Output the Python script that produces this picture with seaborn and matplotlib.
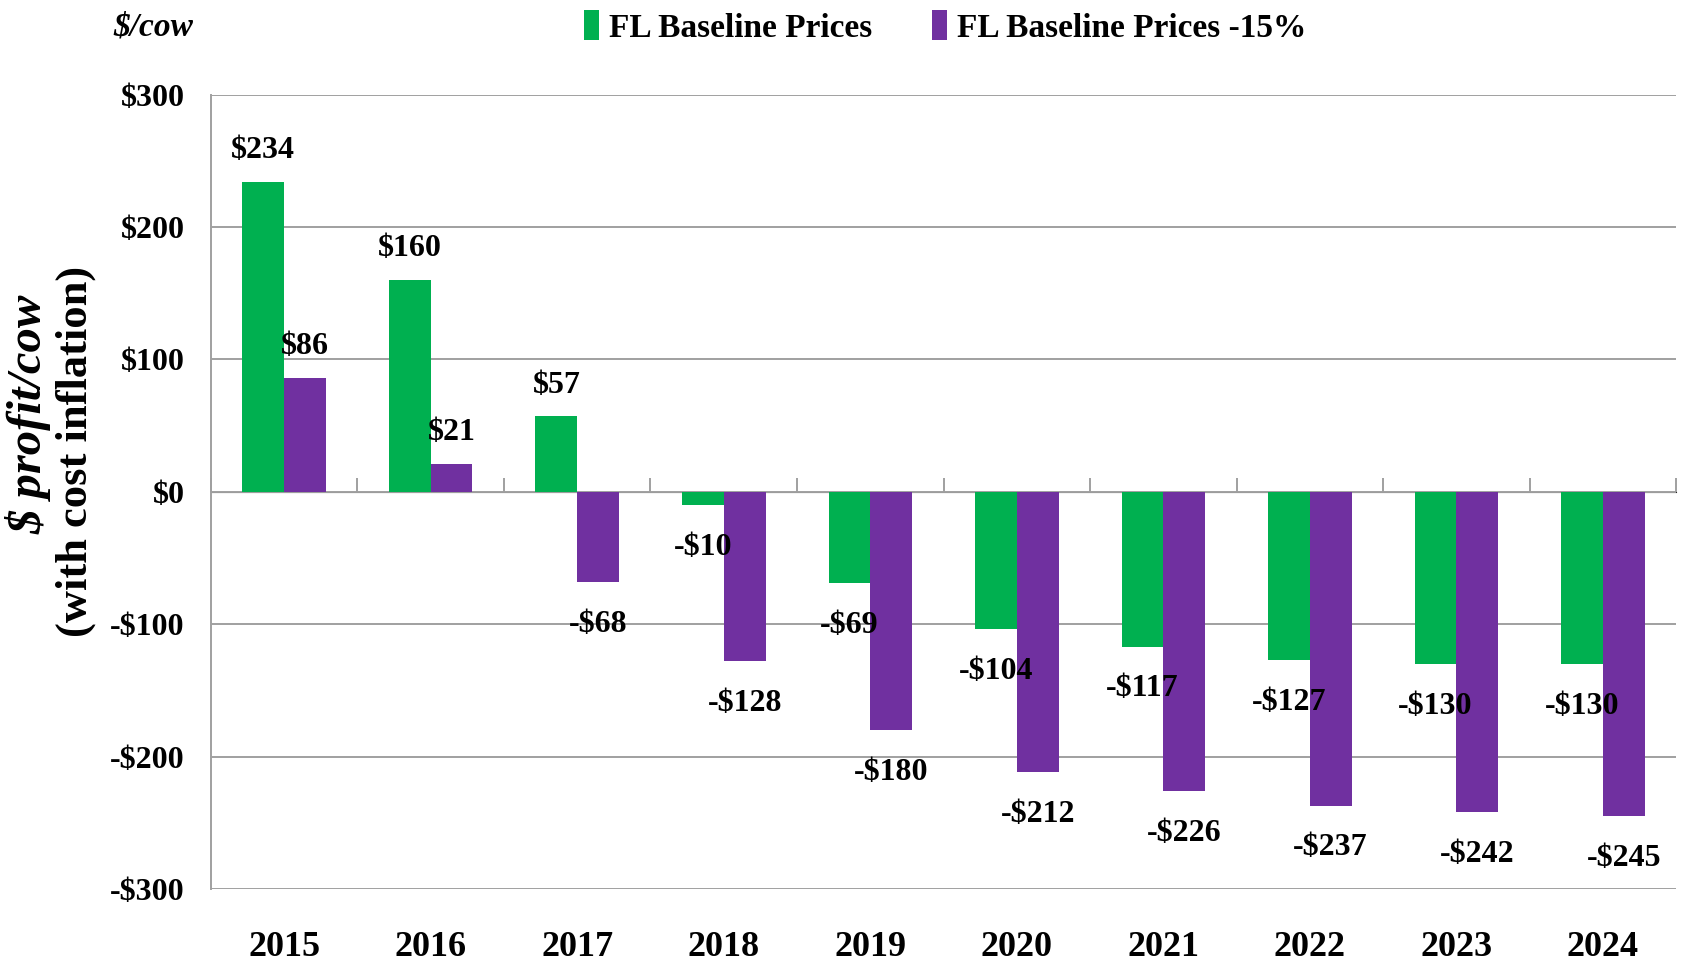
import numpy as np
import pandas as pd
import matplotlib
matplotlib.use("Agg")
import matplotlib.pyplot as plt
import seaborn as sns

# Data
years = ["2015", "2016", "2017", "2018", "2019", "2020", "2021", "2022", "2023", "2024"]
baseline = [234, 160, 57, -10, -69, -104, -117, -127, -130, -130]
minus15 = [86, 21, -68, -128, -180, -212, -226, -237, -242, -245]
series_names = ["FL Baseline Prices", "FL Baseline Prices -15%"]
colors = ["#00B050", "#7030A0"]
yticks = [-300, -200, -100, 0, 100, 200, 300]

df = pd.DataFrame({
    "year": years * 2,
    "value": baseline + minus15,
    "series": [series_names[0]] * len(years) + [series_names[1]] * len(years),
})


def money(v):
    return ("-$%d" % -v) if v < 0 else ("$%d" % v)


sns.set_style("white")
plt.rcParams["font.family"] = ["Liberation Serif", "DejaVu Serif"]
plt.rcParams["font.weight"] = "bold"
plt.rcParams["text.color"] = "black"
plt.rcParams["xtick.labelcolor"] = "black"
plt.rcParams["ytick.labelcolor"] = "black"

grid_col = "#A0A0A0"

fig = plt.figure(figsize=(16.85, 9.67), dpi=100)
ax = fig.add_axes([0.1252, 0.0807, 0.8695, 0.8215])

sns.barplot(data=df, x="year", y="value", hue="series", palette=colors,
            width=0.57, gap=0, saturation=1, errorbar=None, ax=ax,
            linewidth=0)

ax.set_ylim(-300, 300)
ax.set_xlim(-0.5, len(years) - 0.5)
ax.set_yticks(yticks)
ax.set_yticklabels([money(v) for v in yticks])
ax.yaxis.grid(True, color=grid_col, linewidth=1.4)
ax.set_axisbelow(True)
ax.tick_params(axis="y", direction="out", length=7, width=1.4, color=grid_col,
               pad=12, labelsize=23, labelcolor="black")
ax.tick_params(axis="x", length=0, pad=30, labelsize=26, labelcolor="black")
for lab in ax.get_yticklabels() + ax.get_xticklabels():
    lab.set_fontweight("bold")
for s in ["top", "right", "bottom"]:
    ax.spines[s].set_visible(False)
ax.spines["left"].set_color(grid_col)
ax.spines["left"].set_linewidth(1.4)
ax.set_xlabel("")
ax.set_ylabel("")

# horizontal axis crossing at zero with ticks between categories
zero_loc = (0 - yticks[0]) / (yticks[-1] - yticks[0])
sec = ax.secondary_xaxis(zero_loc)
sec.set_xticks(np.arange(len(years) + 1) - 0.5)
sec.set_xticklabels([])
sec.tick_params(direction="out", length=10, width=1.4, color=grid_col)
sec.spines["bottom"].set_color(grid_col)
sec.spines["bottom"].set_linewidth(1.4)

# data labels (positive and negative placed with different offsets)
for cont, vals in zip(ax.containers, [baseline, minus15]):
    pos_labels = [money(v) if v >= 0 else "" for v in vals]
    neg_labels = [money(v) if v < 0 else "" for v in vals]
    ax.bar_label(cont, labels=pos_labels, padding=12, fontsize=23,
                 fontweight="bold", color="black")
    ax.bar_label(cont, labels=neg_labels, padding=20, fontsize=23,
                 fontweight="bold", color="black")

# legend
handles, labels = ax.get_legend_handles_labels()
ax.get_legend().remove()
fig.legend(handles, labels, loc="center", bbox_to_anchor=(0.561, 0.972),
           ncol=2, frameon=False, handlelength=0.45,
           handleheight=1.0, handletextpad=0.3, columnspacing=1.8,
           prop={"weight": "bold", "size": 24})

fig.text(0.067, 0.972, "$/cow", ha="left", va="center", fontsize=24,
         fontweight="bold", style="italic")
fig.text(0.017, 0.572, "$ profit/cow", rotation=90, ha="center", va="center",
         fontsize=35, fontweight="bold", style="italic")
fig.text(0.045, 0.533, "(with cost inflation)", rotation=90, ha="center",
         va="center", fontsize=32, fontweight="bold")

fig.savefig("out.png", dpi=100)
